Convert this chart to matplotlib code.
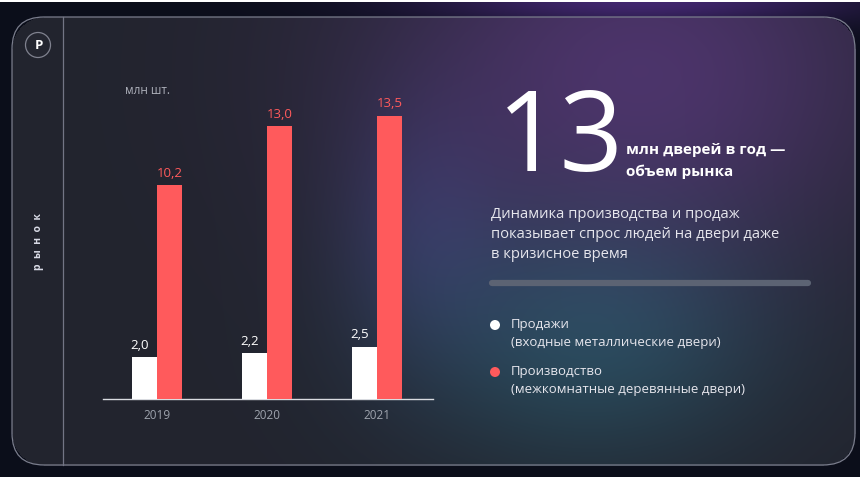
import numpy as np
import matplotlib
matplotlib.use("Agg")
import matplotlib.pyplot as plt
from matplotlib.patches import FancyBboxPatch, Circle
from matplotlib.lines import Line2D

plt.rcParams['font.family'] = ['Open Sans', 'DejaVu Sans']

# ---- data ----
years = ["2019", "2020", "2021"]
sales = [2.0, 2.2, 2.5]          # Продажи (входные металлические двери)
production = [10.2, 13.0, 13.5]  # Производство (межкомнатные деревянные двери)
sales_labels = ["2,0", "2,2", "2,5"]
prod_labels = ["10,2", "13,0", "13,5"]

W, H = 860, 480
fig = plt.figure(figsize=(W / 100, H / 100), dpi=100)

# ---- background ----
yy, xx = np.mgrid[0:H, 0:W].astype(float)
def gauss(cx, cy, sx, sy):
    return np.exp(-(((xx - cx) / sx) ** 2 + ((yy - cy) / sy) ** 2) / 2)

img = np.zeros((H, W, 3))
outer = np.array([11, 14, 26]) / 255
img[:] = outer
g_out = gauss(640, 0, 160, 20)[..., None]
img = img + g_out * (np.array([55, 25, 85]) / 255)

# panel mask (rounded rect)
x0, x1, y0, y1, r = 12, 855, 17, 465, 32
inside = (xx >= x0) & (xx <= x1) & (yy >= y0) & (yy <= y1)
for cx, cy in [(x0 + r, y0 + r), (x1 - r, y0 + r), (x0 + r, y1 - r), (x1 - r, y1 - r)]:
    corner = ((xx < x0 + r) if cx == x0 + r else (xx > x1 - r)) & ((yy < y0 + r) if cy == y0 + r else (yy > y1 - r))
    inside &= ~(corner & ((xx - cx) ** 2 + (yy - cy) ** 2 > r ** 2))

panel = np.zeros((H, W, 3)) + np.array([34, 36, 46]) / 255
panel += gauss(640, 70, 190, 140)[..., None] * (np.array([42, 16, 60]) / 255)
panel += gauss(590, 340, 130, 90)[..., None] * (np.array([4, 36, 40]) / 255)
panel += gauss(420, 230, 60, 90)[..., None] * (np.array([10, 12, 30]) / 255)
img = np.where(inside[..., None], panel, img)
img[0:2, :, :] = 1.0
img[477:, :, :] = 1.0
img = np.clip(img, 0, 1)

bg = fig.add_axes([0, 0, 1, 1])
bg.imshow(img, extent=(0, W, H, 0), aspect='auto', interpolation='bilinear')
bg.set_xlim(0, W)
bg.set_ylim(H, 0)
bg.axis('off')

border = FancyBboxPatch((x0 + r, y0 + r), (x1 - x0) - 2 * r, (y1 - y0) - 2 * r,
                        boxstyle=f"round,pad={r}", fill=False, ec=(0.48, 0.49, 0.55), lw=0.9)
bg.add_patch(border)
bg.add_line(Line2D([63, 63], [y0, y1], color=(0.45, 0.46, 0.52), lw=0.9))

# logo
bg.add_patch(Circle((38, 45), 12.5, fc=(0.14, 0.15, 0.19), ec=(0.5, 0.51, 0.56), lw=0.9))
bg.text(38.5, 45.5, "Р", color='white', fontsize=9.5, fontweight='bold', ha='center', va='center')

# vertical label
bg.text(38, 242, "р  ы  н  о  к", color=(0.85, 0.86, 0.9), fontsize=7.5, fontweight='bold',
        rotation=90, ha='center', va='center')

# right side texts
bg.text(497, 171, "13", color='white', fontsize=80, fontweight='normal', ha='left', va='baseline')
bg.text(626, 154, "млн дверей в год —", color='white', fontsize=11, fontweight='bold', ha='left', va='baseline')
bg.text(626, 176, "объем рынка", color='white', fontsize=11, fontweight='bold', ha='left', va='baseline')
para = ["Динамика производства и продаж",
        "показывает спрос людей на двери даже",
        "в кризисное время"]
for i, line in enumerate(para):
    bg.text(491, 218 + i * 20, line, color=(0.9, 0.9, 0.93), fontsize=10.6, ha='left', va='baseline')

bg.add_line(Line2D([492, 808], [283, 283], color=(0.36, 0.39, 0.45), lw=4.5, solid_capstyle='round'))

white_c = '#ffffff'
red_c = '#ff5a5c'
bg.add_patch(Circle((495, 325), 5, fc=white_c, ec='none'))
bg.add_patch(Circle((495, 372), 5, fc=red_c, ec='none'))
leg_col = (0.9, 0.9, 0.93)
bg.text(511, 328, "Продажи", color=leg_col, fontsize=9.5, ha='left', va='baseline')
bg.text(511, 346, "(входные металлические двери)", color=leg_col, fontsize=9.5, ha='left', va='baseline')
bg.text(511, 375, "Производство", color=leg_col, fontsize=9.5, ha='left', va='baseline')
bg.text(511, 393, "(межкомнатные деревянные двери)", color=leg_col, fontsize=9.5, ha='left', va='baseline')

bg.text(125, 94, "млн шт.", color=(0.68, 0.69, 0.73), fontsize=8.5, ha='left', va='baseline')

# ---- bar chart ----
ax_l, ax_r, ax_base, ax_top = 103, 433, 399, 80
ax = fig.add_axes([ax_l / W, (H - ax_base) / H, (ax_r - ax_l) / W, (ax_base - ax_top) / H])
ax.patch.set_alpha(0)
x = np.arange(len(years))
bw = 0.227
ax.bar(x - bw / 2, sales, width=bw, color=white_c, zorder=3)
ax.bar(x + bw / 2, production, width=bw, color=red_c, zorder=3)
ax.set_xlim(-0.49, 2.51)
ax.set_ylim(0, (ax_base - ax_top) / 21.0)
for xi, v, lab in zip(x, sales, sales_labels):
    ax.text(xi - bw / 2 - 0.04, v + 0.25, lab, color='white', fontsize=9.5, ha='center', va='bottom')
for xi, v, lab in zip(x, production, prod_labels):
    ax.text(xi + bw / 2, v + 0.25, lab, color=red_c, fontsize=9.5, ha='center', va='bottom')
ax.set_xticks(x)
ax.set_xticklabels(years, color=(0.62, 0.64, 0.68), fontsize=8.5)
ax.tick_params(axis='x', length=0, pad=7)
ax.set_yticks([])
for s in ['top', 'right', 'left']:
    ax.spines[s].set_visible(False)
ax.spines['bottom'].set_color((0.85, 0.86, 0.88))
ax.spines['bottom'].set_linewidth(1.0)

fig.savefig("out.png", dpi=100)
